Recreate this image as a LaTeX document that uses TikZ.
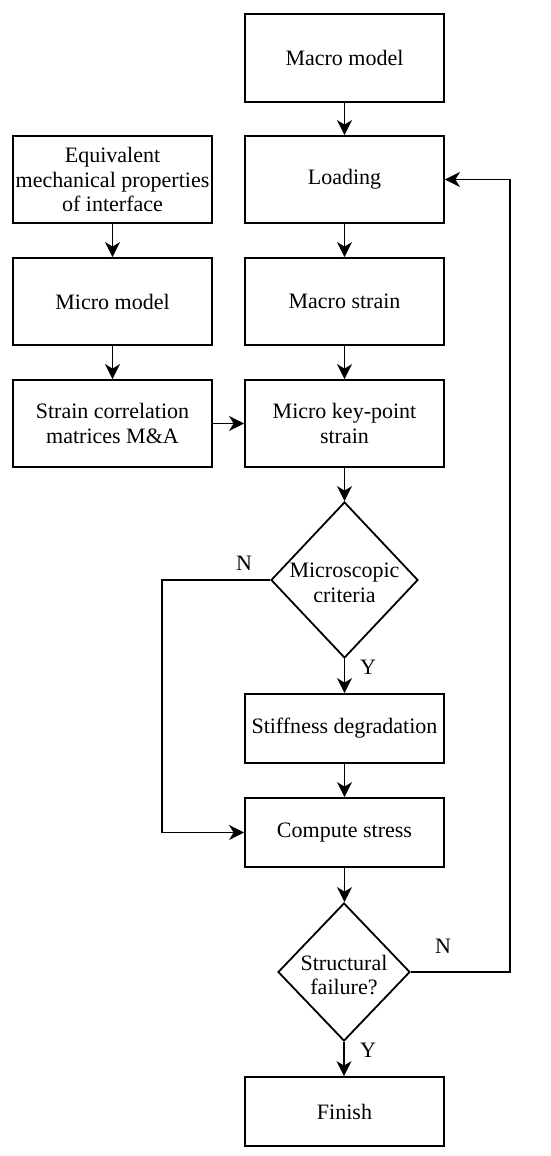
\documentclass[tikz,border=0pt]{standalone}
\usepackage{fontspec}
\setmainfont{Liberation Serif}
\usetikzlibrary{shapes.geometric,arrows.meta}
\begin{document}
\begin{tikzpicture}[x=1pt,y=-1pt,
  every node/.style={font=\fontsize{22}{24.5}\selectfont},
  box/.style={draw,line width=1.8pt,minimum width=199pt,minimum height=87pt,inner sep=0pt,align=center},
  sbox/.style={box,minimum height=69pt},
  dia/.style={draw,diamond,line width=1.8pt,inner sep=0pt},
  txt/.style={align=center,inner sep=0pt},
  arr/.style={line width=1.8pt,-{Stealth[length=15pt,width=15pt,inset=4.5pt]}},
  lbl/.style={inner sep=0pt}]
\useasboundingbox (0,0) rectangle (550,1156);
\node[box,minimum height=88pt] (macro) at (344.5,58) {Macro model};
\node[box] (load) at (344.5,179.5) {Loading};
\node[box] (equiv) at (112.5,179.5) {Equivalent\\mechanical properties\\of interface};
\node[box] (micro) at (112.5,301.5) {Micro model};
\node[box] (mstrain) at (344.5,301.5) {Macro strain};
\node[box] (corr) at (112.5,423.5) {Strain correlation\\matrices M\&A};
\node[box] (key) at (344.5,423.5) {Micro key-point\\strain};
\node[dia,minimum width=147pt,minimum height=156pt] (d1) at (344.5,580) {};
\node[txt] (d1t) at (344.5,583) {Microscopic\\criteria};
\node[sbox] (stiff) at (344.5,728.5) {Stiffness degradation};
\node[sbox] (comp) at (344.5,832.5) {Compute stress};
\node[dia,minimum width=132pt,minimum height=138pt] (d2) at (344,972) {};
\node[txt] (d2t) at (344,975) {Structural\\failure?};
\node[sbox] (fin) at (344.5,1111.5) {Finish};
\coordinate (c1) at (162,580);
\coordinate (c2) at (510,972);
\draw[arr] (macro) -- (load);
\draw[arr] (load) -- (mstrain);
\draw[arr] (mstrain) -- (key);
\draw[arr] (equiv) -- (micro);
\draw[arr] (micro) -- (corr);
\draw[arr] (corr) -- (key);
\draw[arr] (key) -- (d1.north);
\draw[arr] (d1.south) -- (stiff);
\draw[arr] (stiff) -- (comp);
\draw[arr] (comp.south) -- (comp.south |- d2.north);
\draw[arr] (d2.south) -- (d2.south |- fin.north);
\draw[arr] (d1.west) -- (c1) |- (comp.west);
\draw[arr] (d2.east) -- (c2) |- (load.east);
\node[lbl] (n1) at (244,563) {N};
\node[lbl] (y1) at (368,667) {Y};
\node[lbl] (n2) at (443,946) {N};
\node[lbl] (y2) at (368,1050) {Y};
\end{tikzpicture}
\end{document}
